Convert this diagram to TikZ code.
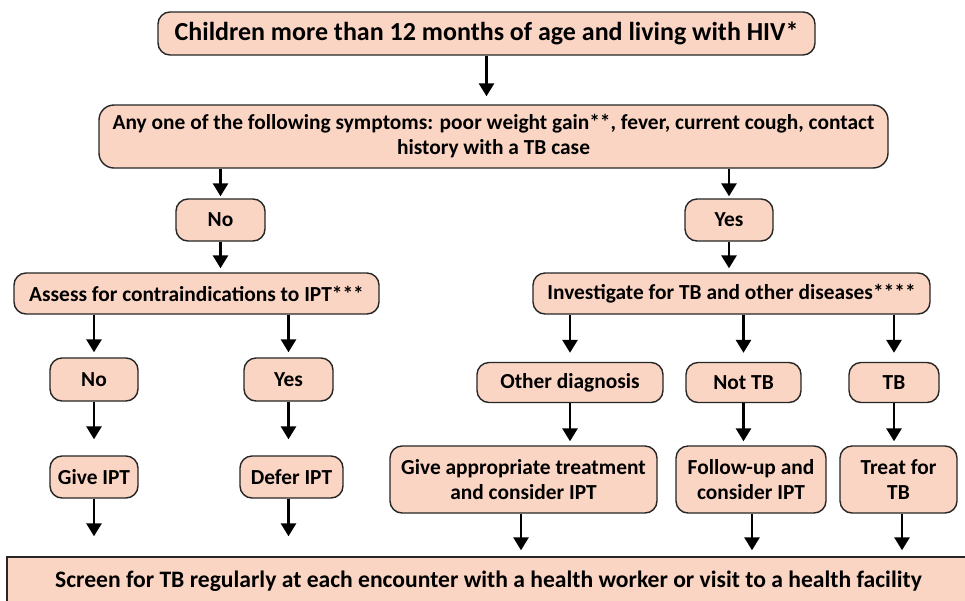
\documentclass[tikz,border=0pt]{standalone}
\usepackage{fontspec}
\setmainfont{Carlito}
\usetikzlibrary{arrows.meta}
\definecolor{peach}{HTML}{FBD5C3}
\definecolor{edge}{HTML}{262626}
\begin{document}
\begin{tikzpicture}[x=1pt,y=-1pt,
  box/.style={draw=edge,fill=peach,line width=1.4pt,rounded corners=12pt,inner sep=0pt,
    align=center,font=\fontsize{21.4}{25}\selectfont\bfseries},
  arr/.style={line width=2.8pt,-{Triangle[width=15pt,length=13pt]}}]
\clip (0,0) rectangle (965,600);
\fill[white] (0,0) rectangle (965,600);
\node[box,minimum width=657pt,minimum height=43pt,font=\fontsize{26}{28}\selectfont\bfseries] (top) at (486.5,33.5) {Children more than 12 months of age and living with HIV*};
\node[box,minimum width=789pt,minimum height=63pt,rounded corners=15pt] (sym) at (493.5,136.5) {Any one of the following symptoms: poor weight gain**, fever, current cough, contact\\history with a TB case};
\node[box,minimum width=89pt,minimum height=42pt] (no1) at (220.5,220) {No};
\node[box,minimum width=88pt,minimum height=42pt] (yes1) at (729,220) {Yes};
\node[box,minimum width=365pt,minimum height=41pt] (assess) at (196.5,293.5) {Assess for contraindications to IPT***};
\node[box,minimum width=397pt,minimum height=41pt] (invest) at (731.5,293.5) {Investigate for TB and other diseases****};
\node[box,minimum width=88pt,minimum height=43pt] (no2) at (94,379.5) {No};
\node[box,minimum width=89pt,minimum height=43pt] (yes2) at (288.5,379.5) {Yes};
\node[box,minimum width=186pt,minimum height=40pt] (other) at (570,382.5) {Other diagnosis};
\node[box,minimum width=115pt,minimum height=40pt] (nottb) at (743.5,382.5) {Not TB};
\node[box,minimum width=90pt,minimum height=40pt] (tb) at (894,382.5) {TB};
\node[box,minimum width=88pt,minimum height=42pt] (give) at (94,477) {Give IPT};
\node[box,minimum width=103pt,minimum height=42pt] (defer) at (291.5,477) {Defer IPT};
\node[box,minimum width=267pt,minimum height=67pt] (giveapp) at (523.5,479.5) {Give appropriate treatment\\and consider IPT};
\node[box,minimum width=150pt,minimum height=67pt] (follow) at (751,479.5) {Follow-up and\\consider IPT};
\node[box,minimum width=117pt,minimum height=67pt] (treat) at (898.5,479.5) {Treat for\\TB};
\node[box,minimum width=963pt,minimum height=49pt,rounded corners=0pt,font=\fontsize{23.6}{26}\selectfont\bfseries] (screen) at (488.5,581.5) {Screen for TB regularly at each encounter with a health worker or visit to a health facility};
% arrows
\draw[arr,shorten >=8pt] (top) -- (top |- sym.north);
\draw[arr,shorten >=2pt] (no1 |- sym.south) -- (no1);
\draw[arr,shorten >=2pt] (yes1 |- sym.south) -- (yes1);
\draw[arr,shorten >=4pt] (no1) -- (no1 |- assess.north);
\draw[arr,shorten >=4pt] (yes1) -- (yes1 |- invest.north);
\draw[arr,shorten >=5pt] (no2 |- assess.south) -- (no2);
\draw[arr,shorten >=5pt] (yes2 |- assess.south) -- (yes2);
\draw[arr,shorten >=9pt] (other |- invest.south) -- (other);
\draw[arr,shorten >=9pt] (nottb |- invest.south) -- (nottb);
\draw[arr,shorten >=9pt] (tb |- invest.south) -- (tb);
\draw[arr,shorten >=16pt] (no2) -- (no2 |- give.north);
\draw[arr,shorten >=16pt] (yes2) -- (yes2 |- defer.north);
\draw[arr,shorten >=4pt] (other) -- (other |- giveapp.north);
\draw[arr,shorten >=4pt] (nottb) -- (nottb |- follow.north);
\draw[arr,shorten >=4pt] (tb) -- (tb |- treat.north);
\draw[arr,shorten >=20pt] (give) -- (give |- screen.north);
\draw[arr,shorten >=20pt] (yes2 |- defer.south) -- (yes2 |- screen.north);
\draw[arr,shorten >=6pt] ([xshift=-2.5pt]giveapp.south) -- ([xshift=-2.5pt]giveapp.south |- screen.north);
\draw[arr,shorten >=6pt] ([xshift=1pt]follow.south) -- ([xshift=1pt]follow.south |- screen.north);
\draw[arr,shorten >=6pt] ([xshift=3.5pt]treat.south) -- ([xshift=3.5pt]treat.south |- screen.north);
\end{tikzpicture}
\end{document}
